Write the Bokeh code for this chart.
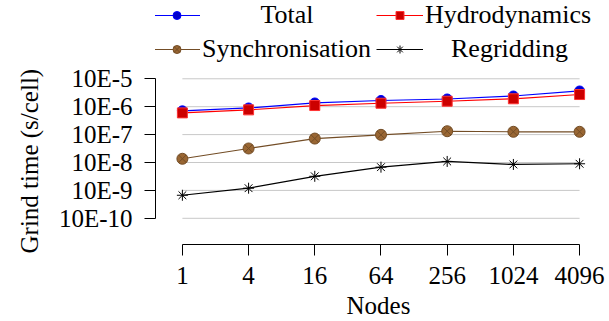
from bokeh.plotting import figure
from bokeh.models import Range1d, FixedTicker, Legend, LegendItem, Title
from bokeh.embed import file_html
from bokeh.resources import INLINE

# ---- data ----
nodes = [1, 4, 16, 64, 256, 1024, 4096]
total = [7.1e-7, 9.0e-7, 1.36e-6, 1.67e-6, 1.89e-6, 2.42e-6, 3.66e-6]
hydro = [6.0e-7, 7.7e-7, 1.10e-6, 1.33e-6, 1.57e-6, 1.92e-6, 2.73e-6]
sync = [1.36e-8, 3.18e-8, 7.2e-8, 9.8e-8, 1.32e-7, 1.26e-7, 1.26e-7]
regrid = [6.7e-10, 1.2e-9, 3.2e-9, 6.8e-9, 1.09e-8, 8.5e-9, 9.0e-9]

x_tick_labels = ["1", "4", "16", "64", "256", "1024", "4096"]
y_ticks = [1e-10, 1e-9, 1e-8, 1e-7, 1e-6, 1e-5]
y_tick_labels = ["10E-10", "10E-9", "10E-8", "10E-7", "10E-6", "10E-5"]

series_names = ["Total", "Hydrodynamics", "Synchronisation", "Regridding"]
x_title = "Nodes"
y_title = "Grind time (s/cell)"

FONT = "Liberation Serif"
FS = "25px"
LFS = "26px"

p = figure(width=609, height=321,
           x_axis_type="log", y_axis_type="log",
           x_range=Range1d(2 ** -0.812, 2 ** 12.662),
           y_range=Range1d(10 ** -10.939, 10 ** -2.194),
           output_backend="svg", toolbar_location=None,
           min_border_left=153, min_border_right=8,
           min_border_top=0, min_border_bottom=77)

p.outline_line_color = None
p.xgrid.visible = False
p.ygrid.visible = False

# axes
for ax in (p.xaxis[0], p.yaxis[0]):
    ax.axis_line_color = "black"
    ax.axis_line_width = 1
    ax.major_tick_line_color = "black"
    ax.major_tick_in = 0
    ax.major_tick_out = 11
    ax.minor_tick_line_color = None
    ax.major_label_text_font = FONT
    ax.major_label_text_font_size = FS
    ax.major_label_text_color = "black"
    ax.axis_label_text_font = FONT
    ax.axis_label_text_font_size = FS
    ax.axis_label_text_font_style = "normal"
    ax.axis_label_text_color = "black"

p.xaxis.ticker = FixedTicker(ticks=nodes)
p.xaxis.major_label_overrides = dict(zip(nodes, x_tick_labels))
p.xaxis.bounds = (nodes[0], nodes[-1])
p.xaxis.axis_label = x_title
p.xaxis.major_label_standoff = 11
p.xaxis.axis_label_standoff = 5

p.yaxis.ticker = FixedTicker(ticks=y_ticks)
p.yaxis.major_label_overrides = dict(zip(y_ticks, y_tick_labels))
p.yaxis.bounds = (y_ticks[0], y_ticks[-1])
p.yaxis.major_label_standoff = 12

ytitle = Title(text=y_title, align="left", offset=-9, standoff=26,
               text_font=FONT, text_font_size=FS, text_font_style="normal",
               text_color="black")
p.add_layout(ytitle, "left")

# horizontal grid lines spanning the node range
p.segment(x0=nodes[0], x1=nodes[-1], y0=y_ticks, y1=y_ticks,
          line_color="#c8c8c8", line_width=1)

lw = 1.2
l1 = p.line(nodes, total, line_color="#0000ff", line_width=lw)
m1 = p.scatter(nodes, total, marker="circle", size=10,
               fill_color="#0000cc", line_color="#0000ff", line_width=1)
l2 = p.line(nodes, hydro, line_color="#ff0000", line_width=lw)
m2 = p.scatter(nodes, hydro, marker="square", size=10,
               fill_color="#cc0000", line_color="#ff3333", line_width=1)
l3 = p.line(nodes, sync, line_color="#734d26", line_width=lw)
m3 = p.scatter(nodes, sync, marker="circle_x", size=11,
               fill_color="#996633", line_color="#734d26", line_width=1)
l4 = p.line(nodes, regrid, line_color="black", line_width=lw)
m4 = p.scatter(nodes, regrid, marker="asterisk", size=11,
               line_color="black", line_width=1)

# legend labels are centred in their column (as in the reference) with no-break spaces
NB = "\u00a0"
label_pad = [9, 0, 0, 4]
items = [
    LegendItem(label=NB * label_pad[0] + series_names[0], renderers=[l1, m1]),
    LegendItem(label=NB * label_pad[1] + series_names[1], renderers=[l2, m2]),
    LegendItem(label=NB * label_pad[2] + series_names[2], renderers=[l3, m3]),
    LegendItem(label=NB * label_pad[3] + series_names[3], renderers=[l4, m4]),
]
legend = Legend(items=items, location=(-2, 180), orientation="horizontal", ncols=2,
                label_text_font=FONT, label_text_font_size=LFS,
                label_text_color="black", label_standoff=2, label_width=170,
                glyph_width=47, glyph_height=20, spacing=4,
                padding=0, margin=0, border_line_color=None,
                background_fill_alpha=0)
p.add_layout(legend, "center")

open("out.html", "w").write(file_html(p, INLINE))
